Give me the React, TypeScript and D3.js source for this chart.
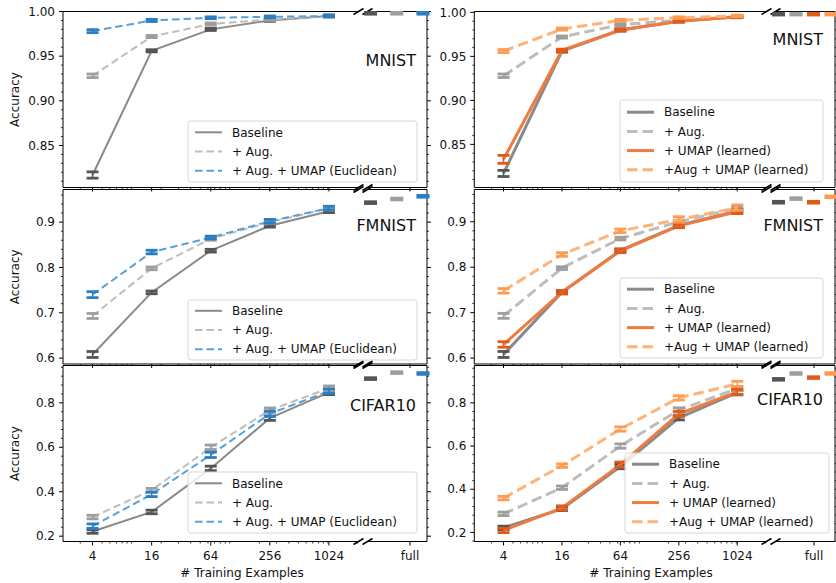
import React, { useRef, useEffect } from 'react';
import * as d3 from 'd3';

// x categories (training examples) – last one is the "full" dataset
const sizes = [4, 16, 64, 256, 1024];
const sizeLabels = ['4', '16', '64', '256', '1024'];
const fullLabel = 'full';
const datasets = ['MNIST', 'FMNIST', 'CIFAR10'];

// values: 4, 16, 64, 256, 1024, full
const mnistBaseline = [0.817, 0.956, 0.980, 0.990, 0.995, 0.998];
const mnistAug = [0.928, 0.972, 0.986, 0.991, 0.995, 0.998];
const mnistEuclid = [0.978, 0.990, 0.993, 0.994, 0.995, 0.998];
const mnistUmap = [0.833, 0.957, 0.980, 0.990, 0.995, 0.998];
const mnistAugUmap = [0.956, 0.981, 0.991, 0.994, 0.996, 0.998];

const fmnistBaseline = [0.608, 0.745, 0.837, 0.892, 0.924, 0.943];
const fmnistAug = [0.693, 0.798, 0.863, 0.900, 0.930, 0.951];
const fmnistEuclid = [0.740, 0.834, 0.866, 0.902, 0.931, 0.957];
const fmnistUmap = [0.630, 0.745, 0.836, 0.891, 0.922, 0.943];
const fmnistAugUmap = [0.748, 0.828, 0.880, 0.905, 0.931, 0.955];

const cifarBaseline = [0.221, 0.309, 0.505, 0.731, 0.847, 0.909];
const cifarAug = [0.286, 0.407, 0.600, 0.767, 0.866, 0.936];
const cifarEuclid = [0.245, 0.388, 0.566, 0.751, 0.853, 0.932];
const cifarUmap = [0.209, 0.313, 0.514, 0.749, 0.851, 0.917];
const cifarAugUmap = [0.359, 0.509, 0.679, 0.823, 0.888, 0.936];

// error bars (half width)
const mnistBaselineErr = [0.0035, 0.0012, 0.0012, 0.001, 0.001, 0.001];
const mnistAugErr = [0.002, 0.0012, 0.0012, 0.001, 0.001, 0.001];
const mnistEuclidErr = [0.0017, 0.0012, 0.001, 0.001, 0.001, 0.001];
const mnistUmapErr = [0.0045, 0.0012, 0.0012, 0.001, 0.001, 0.001];
const mnistAugUmapErr = [0.0017, 0.0012, 0.001, 0.001, 0.001, 0.001];

const fmnistBaselineErr = [0.0066, 0.003, 0.003, 0.003, 0.003, 0.002];
const fmnistAugErr = [0.0055, 0.003, 0.003, 0.003, 0.003, 0.002];
const fmnistEuclidErr = [0.0066, 0.004, 0.003, 0.004, 0.004, 0.002];
const fmnistUmapErr = [0.006, 0.004, 0.004, 0.004, 0.004, 0.002];
const fmnistAugUmapErr = [0.005, 0.004, 0.004, 0.006, 0.006, 0.002];

const cifarBaselineErr = [0.008, 0.008, 0.01, 0.01, 0.01, 0.004];
const cifarAugErr = [0.008, 0.008, 0.01, 0.01, 0.01, 0.004];
const cifarEuclidErr = [0.01, 0.01, 0.012, 0.012, 0.01, 0.004];
const cifarUmapErr = [0.01, 0.01, 0.012, 0.012, 0.012, 0.004];
const cifarAugUmapErr = [0.008, 0.008, 0.01, 0.01, 0.012, 0.004];

const yTicksMnist = [0.85, 0.90, 0.95, 1.00];
const yTicksFmnist = [0.6, 0.7, 0.8, 0.9];
const yTicksCifar = [0.2, 0.4, 0.6, 0.8];

const legendLeft = ['Baseline', '+ Aug.', '+ Aug. + UMAP (Euclidean)'];
const legendRight = ['Baseline', '+ Aug.', '+ UMAP (learned)', '+Aug + UMAP (learned)'];

const font = "'DejaVu Sans', sans-serif";

const styles: any = {
  baseline: { line: '#8a8a8a', cap: '#555555', dashed: false },
  aug: { line: '#bdbdbd', cap: '#9e9e9e', dashed: true },
  euclid: { line: '#58a0d8', cap: '#2c7ec3', dashed: true },
  umap: { line: '#f07b3f', cap: '#e35a18', dashed: false },
  augUmap: { line: '#fdb37a', cap: '#fd9c52', dashed: true },
};

const App = () => {
  const svgRef = useRef<SVGSVGElement>(null);

  useEffect(() => {
    const svg = d3.select(svgRef.current);
    svg.selectAll('*').remove();

    const rowTop = [11.5, 189.5, 365.5];
    const rowBottom = [187.5, 364, 541.5];

    const rows = [
      {
        ticks: yTicksMnist, minor: 0.01, fmt: d3.format('.2f'),
        series: { baseline: [mnistBaseline, mnistBaselineErr], aug: [mnistAug, mnistAugErr], euclid: [mnistEuclid, mnistEuclidErr], umap: [mnistUmap, mnistUmapErr], augUmap: [mnistAugUmap, mnistAugUmapErr] },
      },
      {
        ticks: yTicksFmnist, minor: 0.02, fmt: d3.format('.1f'),
        series: { baseline: [fmnistBaseline, fmnistBaselineErr], aug: [fmnistAug, fmnistAugErr], euclid: [fmnistEuclid, fmnistEuclidErr], umap: [fmnistUmap, fmnistUmapErr], augUmap: [fmnistAugUmap, fmnistAugUmapErr] },
      },
      {
        ticks: yTicksCifar, minor: 0.04, fmt: d3.format('.1f'),
        series: { baseline: [cifarBaseline, cifarBaselineErr], aug: [cifarAug, cifarAugErr], euclid: [cifarEuclid, cifarEuclidErr], umap: [cifarUmap, cifarUmapErr], augUmap: [cifarAugUmap, cifarAugUmapErr] },
      },
    ];

    const columns = [
      {
        mainL: 63, brk: 363, fullR: 427, fullTick: 410, lw: 2, dash: '7.5,4',
        keys: ['baseline', 'aug', 'euclid'], labels: legendLeft, yLabel: true,
        domains: [[0.803, 1.0], [0.587, 0.972], [0.176, 0.968]],
        titleX: 416, titleY: [66, 231, 411],
        legend: [[188, 121, 229, 61], [188, 300, 229, 60], [188, 472, 229, 61]],
        xLabelX: 242,
      },
      {
        mainL: 474.3, brk: 771, fullR: 835, fullTick: 814, lw: 3, dash: '10.5,5',
        keys: ['baseline', 'aug', 'umap', 'augUmap'], labels: legendRight, yLabel: false,
        domains: [[0.801, 1.001], [0.587, 0.971], [0.158, 0.973]],
        titleX: 823, titleY: [44.5, 231, 404.5],
        legend: [[620, 100, 203, 82], [620, 278, 203, 80], [625, 453, 204, 80]],
        xLabelX: 651,
      },
    ];

    const minorX: number[] = [];
    [1, 10, 100, 1000].forEach((k) => {
      d3.range(1, 10).forEach((m) => {
        const v = m * k;
        if (v > 2 && v < 2048 && !sizes.includes(v)) minorX.push(v);
      });
    });

    columns.forEach((col) => {
      const mainR = col.brk - 4.5;
      const fullL = col.brk + 4.5;
      const x = d3.scaleLog().base(2).domain([2, 2048]).range([col.mainL, mainR]);
      const xf = d3.scalePoint().domain(col.keys).range([fullL + 3, col.fullR - 4]);

      rows.forEach((row, r) => {
        const top = rowTop[r];
        const bot = rowBottom[r];
        const y = d3.scaleLinear().domain(col.domains[r]).range([bot, top]);
        const g = svg.append('g');

        // spines
        const ax = g.append('g').attr('stroke', '#000').attr('stroke-width', 1).attr('fill', 'none');
        ax.append('path').attr('d', `M${mainR},${top}H${col.mainL}V${bot}H${mainR}`);
        ax.append('path').attr('d', `M${fullL},${top}H${col.fullR}V${bot}H${fullL}`);

        // y ticks
        const [lo, hi] = col.domains[r];
        const major = row.ticks[1] - row.ticks[0];
        const minors = d3.range(Math.ceil(lo / row.minor - 1e-6), Math.floor(hi / row.minor + 1e-6) + 1)
          .map((k) => k * row.minor)
          .filter((v) => Math.abs(v / major - Math.round(v / major)) > 1e-6);
        minors.forEach((v) => {
          ax.append('line').attr('x1', col.mainL).attr('x2', col.mainL - 2).attr('y1', y(v)).attr('y2', y(v)).attr('stroke-width', 0.8);
          ax.append('line').attr('x1', col.fullR).attr('x2', col.fullR + 2).attr('y1', y(v)).attr('y2', y(v)).attr('stroke-width', 0.8);
        });
        row.ticks.forEach((v) => {
          ax.append('line').attr('x1', col.mainL).attr('x2', col.mainL - 4).attr('y1', y(v)).attr('y2', y(v));
          ax.append('line').attr('x1', col.fullR).attr('x2', col.fullR + 4).attr('y1', y(v)).attr('y2', y(v));
          g.append('text').attr('x', col.mainL - 8).attr('y', y(v)).attr('dy', '0.35em')
            .attr('text-anchor', 'end').attr('font-family', font).attr('font-size', 12).attr('fill', '#111')
            .text(row.fmt(v));
        });

        // x ticks
        minorX.forEach((v) => {
          ax.append('line').attr('x1', x(v)).attr('x2', x(v)).attr('y1', bot).attr('y2', bot + 2).attr('stroke-width', 0.8);
        });
        sizes.forEach((v, i) => {
          ax.append('line').attr('x1', x(v)).attr('x2', x(v)).attr('y1', bot).attr('y2', bot + 4);
          if (r === 2) {
            g.append('text').attr('x', x(v)).attr('y', bot + 18).attr('text-anchor', 'middle')
              .attr('font-family', font).attr('font-size', 12).attr('fill', '#111').text(sizeLabels[i]);
          }
        });
        ax.append('line').attr('x1', col.fullTick).attr('x2', col.fullTick).attr('y1', bot).attr('y2', bot + 4);
        if (r === 2) {
          g.append('text').attr('x', col.fullTick).attr('y', bot + 18).attr('text-anchor', 'middle')
            .attr('font-family', font).attr('font-size', 12).attr('fill', '#111').text(fullLabel);
        }

        // break marks
        [mainR, fullL].forEach((bx) => {
          [top, bot].forEach((by) => {
            ax.append('line').attr('x1', bx - 5).attr('y1', by + 3).attr('x2', bx + 5).attr('y2', by - 3).attr('stroke-width', 1.5);
          });
        });

        // series
        col.keys.forEach((key) => {
          const st = styles[key];
          const [vals, errs] = (row.series as any)[key];
          const pts = sizes.map((s, i) => [x(s), y(vals[i])] as [number, number]);
          g.append('path')
            .datum(pts)
            .attr('fill', 'none')
            .attr('stroke', st.line)
            .attr('stroke-width', col.lw)
            .attr('stroke-dasharray', st.dashed ? col.dash : null)
            .attr('d', d3.line());

          const bars = sizes.map((s, i) => ({ cx: x(s), v: vals[i], e: errs[i], w: 6 }));
          bars.push({ cx: xf(key) as number, v: vals[5], e: errs[5], w: 6.5 });
          bars.forEach((b) => {
            const y1 = y(b.v - b.e);
            const y2 = y(b.v + b.e);
            g.append('line').attr('x1', b.cx).attr('x2', b.cx).attr('y1', y1).attr('y2', y2)
              .attr('stroke', st.cap).attr('stroke-width', 1.5);
            [y1, y2].forEach((yy) => {
              g.append('line').attr('x1', b.cx - b.w).attr('x2', b.cx + b.w).attr('y1', yy).attr('y2', yy)
                .attr('stroke', st.cap).attr('stroke-width', 2.8);
            });
          });
        });

        // dataset name
        g.append('text').attr('x', col.titleX).attr('y', col.titleY[r]).attr('text-anchor', 'end')
          .attr('font-family', font).attr('font-size', 16).attr('fill', '#111').text(datasets[r]);

        // legend
        const [lx, ly, lw, lh] = col.legend[r];
        const lg = g.append('g');
        lg.append('rect').attr('x', lx).attr('y', ly).attr('width', lw).attr('height', lh).attr('rx', 3)
          .attr('fill', '#fff').attr('fill-opacity', 0.8).attr('stroke', '#d6d6d6').attr('stroke-width', 1);
        const step = 19.2;
        const first = ly + (lh - step * (col.keys.length - 1)) / 2;
        col.keys.forEach((key, i) => {
          const st = styles[key];
          const yy = first + i * step;
          lg.append('line').attr('x1', lx + 7).attr('x2', lx + 34).attr('y1', yy).attr('y2', yy)
            .attr('stroke', st.line).attr('stroke-width', col.lw)
            .attr('stroke-dasharray', st.dashed ? col.dash : null);
          lg.append('text').attr('x', lx + 44).attr('y', yy).attr('dy', '0.35em')
            .attr('font-family', font).attr('font-size', 12).attr('fill', '#111').text(col.labels[i]);
        });

        if (col.yLabel) {
          g.append('text').attr('transform', `translate(19,${(top + bot) / 2}) rotate(-90)`)
            .attr('text-anchor', 'middle').attr('font-family', font).attr('font-size', 12).attr('fill', '#111')
            .text('Accuracy');
        }
      });

      svg.append('text').attr('x', col.xLabelX).attr('y', 577).attr('text-anchor', 'middle')
        .attr('font-family', font).attr('font-size', 12).attr('fill', '#111').text('# Training Examples');
    });
  }, []);

  return (
    <div style={{ position: 'absolute', left: 0, top: 0 }}>
      <svg ref={svgRef} width={836} height={583} style={{ display: 'block', background: '#fff' }} />
    </div>
  );
};

export default App;
